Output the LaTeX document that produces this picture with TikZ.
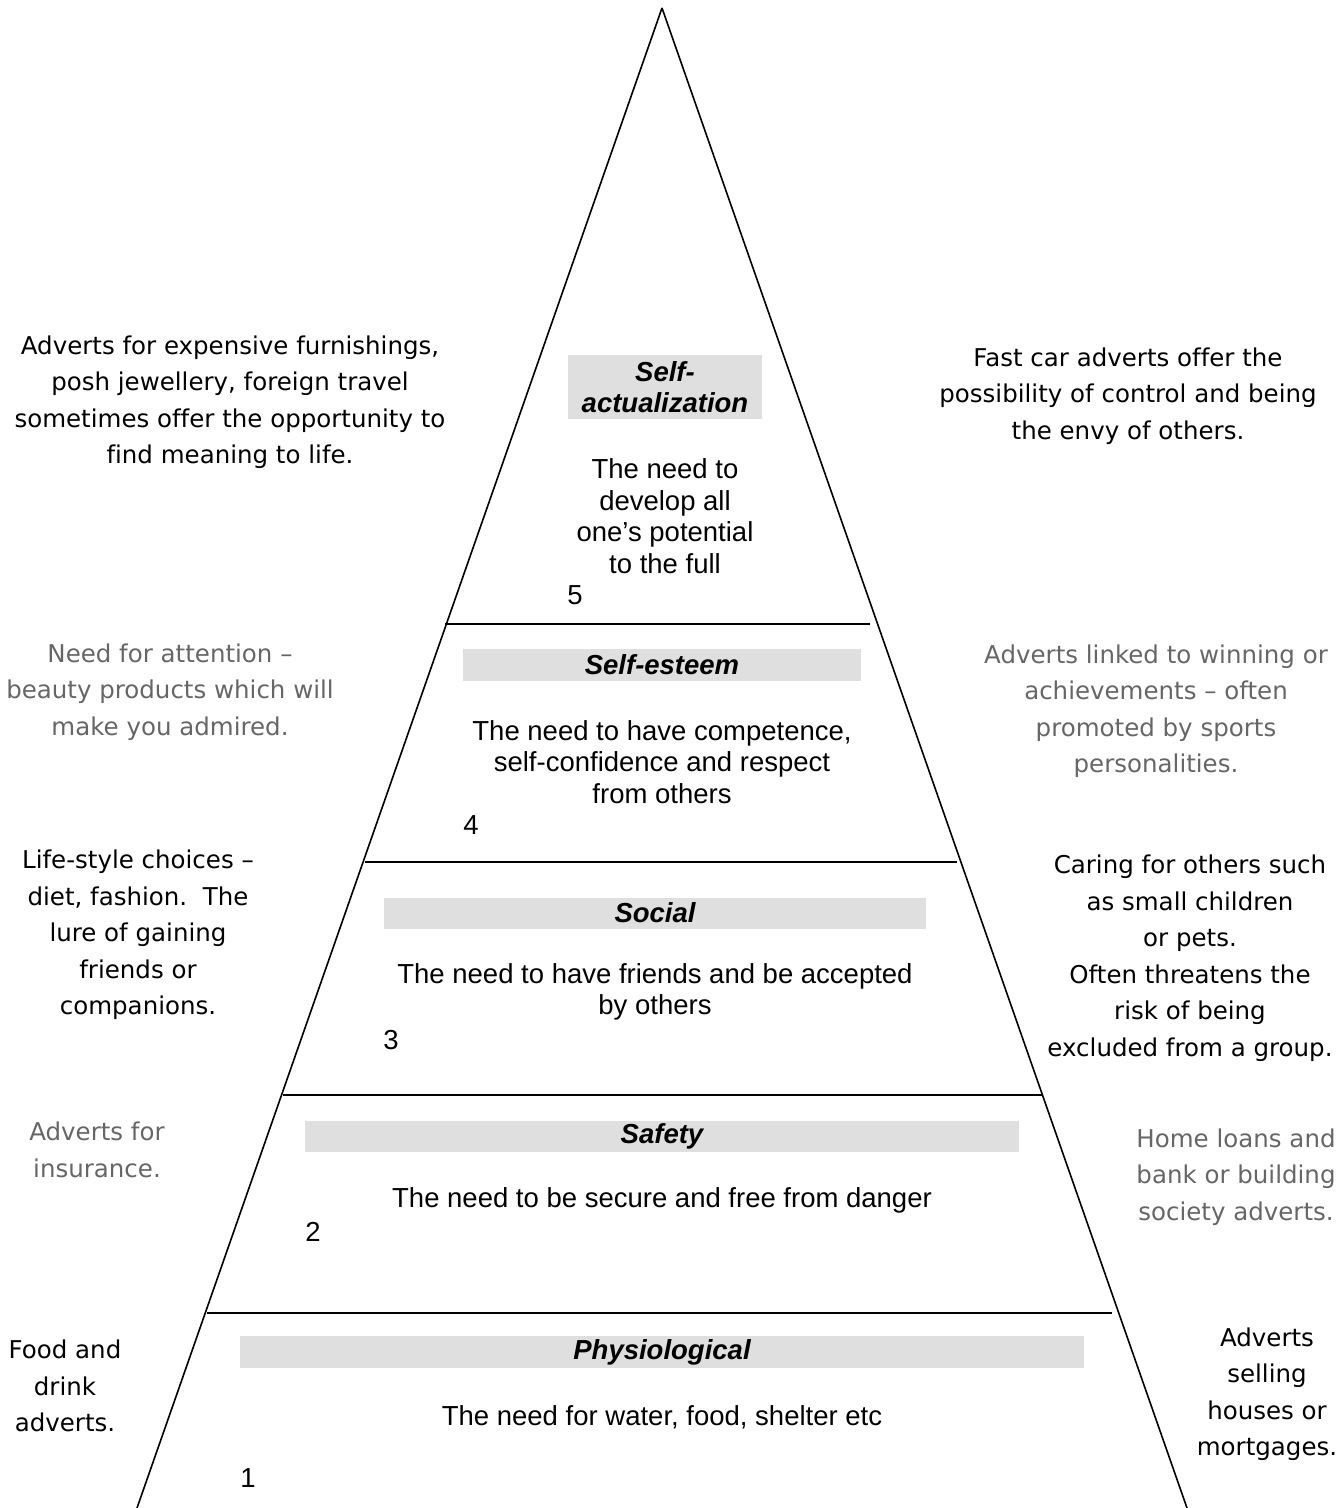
\documentclass[tikz,border=0pt]{standalone}
\usepackage{fontspec}
\setmainfont[Ligatures=NoCommon]{Liberation Sans}
\newfontfamily\sidefont[Ligatures=NoCommon]{DejaVu Sans}
\definecolor{barfill}{HTML}{DFDFDF}
\definecolor{sidegray}{HTML}{666666}
\begin{document}
\begin{tikzpicture}[x=1bp,y=-1bp,
  edge/.style={line width=1.6bp, black},
  level/.style={line width=1.6bp, black},
  maintext/.style={font=\fontsize{27.5bp}{31.5bp}\selectfont, align=center, inner sep=0pt},
  numtext/.style={font=\fontsize{27.5bp}{31.5bp}\selectfont, inner sep=0pt},
  sidetext/.style={font=\sidefont\fontsize{24.5bp}{36.5bp}\selectfont, align=center, inner sep=0pt},
  sidegraytext/.style={sidetext, text=sidegray},
  titlebar/.style={fill=barfill, draw=none, inner sep=0pt, align=center,
    font=\fontsize{27.5bp}{31bp}\selectfont\bfseries\itshape}
]
\useasboundingbox (0,0) rectangle (1344,1508);

% triangle
\coordinate (apex) at (662,8);
\coordinate (bl) at (137,1508);
\coordinate (br) at (1187,1508);
\draw[edge] (apex) -- (bl);
\draw[edge] (apex) -- (br);

% level lines
\coordinate (l4a) at (445,624);  \coordinate (l4b) at (870,624);
\coordinate (l3a) at (365,862);  \coordinate (l3b) at (957,862);
\coordinate (l2a) at (283,1095); \coordinate (l2b) at (1043,1095);
\coordinate (l1a) at (207,1313); \coordinate (l1b) at (1112,1313);
\draw[level] (l4a) -- (l4b);
\draw[level] (l3a) -- (l3b);
\draw[level] (l2a) -- (l2b);
\draw[level] (l1a) -- (l1b);

% level 5
\node[titlebar, minimum width=194bp, minimum height=64bp] (t5) at (665,387) {Self-\\actualization};
\node[maintext] (d5) at (665,516) {The need to\\develop all\\one’s potential\\to the full};
\node[numtext] (n5) at (575,595) {5};

% level 4
\node[titlebar, minimum width=398bp, minimum height=32bp] (t4) at (662,665) {Self-esteem};
\node[maintext] (d4) at (662,762) {The need to have competence,\\self-confidence and respect\\from others};
\node[numtext] (n4) at (471,825) {4};

% level 3
\node[titlebar, minimum width=542bp, minimum height=31bp] (t3) at (655,913) {Social};
\node[maintext] (d3) at (655,992) {The need to have friends and be accepted\\by others};
\node[numtext] (n3) at (391,1040) {3};

% level 2
\node[titlebar, minimum width=714bp, minimum height=31bp] (t2) at (662,1136) {Safety};
\node[maintext] (d2) at (662,1200) {The need to be secure and free from danger};
\node[numtext] (n2) at (313,1232) {2};

% level 1
\node[titlebar, minimum width=844bp, minimum height=32bp] (t1) at (662,1352) {Physiological};
\node[maintext] (d1) at (662,1417) {The need for water, food, shelter etc};
\node[numtext] (n1) at (248,1478) {1};

% side texts
\node[sidetext] (sl5) at (230,402) {Adverts for expensive furnishings,\\posh jewellery, foreign travel\\sometimes offer the opportunity to\\find meaning to life.};
\node[sidetext] (sr5) at (1128,396) {Fast car adverts offer the\\possibility of control and being\\the envy of others.};
\node[sidegraytext] (sl4) at (170,692) {Need for attention –\\beauty products which will\\make you admired.};
\node[sidegraytext] (sr4) at (1156,711) {Adverts linked to winning or\\achievements – often\\promoted by sports\\personalities.};
\node[sidetext] (sl3) at (138,935) {Life-style choices –\\diet, fashion.\ \ The\\lure of gaining\\friends or\\companions.};
\node[sidetext] (sr3) at (1190,958) {Caring for others such\\as small children\\or pets.\\Often threatens the\\risk of being\\excluded from a group.};
\node[sidegraytext] (sl2) at (97,1150) {Adverts for\\insurance.};
\node[sidegraytext] (sr2) at (1236,1177) {Home loans and\\bank or building\\society adverts.};
\node[sidetext] (sl1) at (65,1386) {Food and\\drink\\adverts.};
\node[sidetext] (sr1) at (1267,1394) {Adverts\\selling\\houses or\\mortgages.};
\end{tikzpicture}
\end{document}
